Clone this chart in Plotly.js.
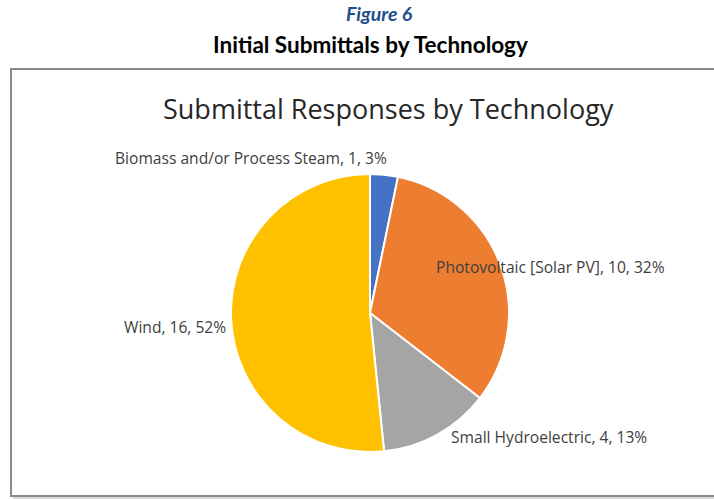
<!DOCTYPE html>
<html><head><meta charset="utf-8">
<script src="https://cdn.plot.ly/plotly-3.0.1.min.js"></script>
<style>html,body{margin:0;padding:0;background:#fff;}#chart{width:714px;height:499px;}</style>
</head><body><div id="chart"></div>
<script>
const categories = ["Biomass and/or Process Steam", "Photovoltaic [Solar PV]", "Small Hydroelectric", "Wind"];
const counts = [1, 10, 4, 16];
const colors = ["#4472C4", "#ED7D31", "#A5A5A5", "#FFC000"];
const headerTitle = "Figure 6";
const headerSubtitle = "Initial Submittals by Technology";
const chartTitle = "Submittal Responses by Technology";

const W = 714, H = 499;
const total = counts.reduce((a, b) => a + b, 0);
const labelText = categories.map((c, i) => c + ", " + counts[i] + ", " + Math.round(counts[i] / total * 100) + "%");
// label anchor positions in pixels (x, y, xanchor)
const labelPos = [[251, 158, "center"], [434, 267, "left"], [449, 437, "left"], [122, 327, "left"]];
const px = x => x / W, py = y => 1 - y / H;
const FONT = "'Open Sans', sans-serif";

const annotations = labelText.map((t, i) => ({
  text: t, x: px(labelPos[i][0]), y: py(labelPos[i][1]), xref: "paper", yref: "paper",
  xanchor: labelPos[i][2], yanchor: "middle", showarrow: false,
  font: {family: FONT, size: 15.6, color: "#404040"}
}));
annotations.push(
  {text: "<b><i>" + headerTitle + "</i></b>", x: px(379), y: py(13), xref: "paper", yref: "paper", xanchor: "center", yanchor: "middle", showarrow: false, font: {family: "Lato, sans-serif", size: 19.5, color: "#1F4E8C"}},
  {text: "<b>" + headerSubtitle + "</b>", x: px(370), y: py(45), xref: "paper", yref: "paper", xanchor: "center", yanchor: "middle", showarrow: false, font: {family: "Lato, sans-serif", size: 22.5, color: "#000000"}},
  {text: chartTitle, x: px(389), y: py(108), xref: "paper", yref: "paper", xanchor: "center", yanchor: "middle", showarrow: false, font: {family: FONT, size: 27, color: "#262626"}}
);

const data = [{
  type: "pie", labels: categories, values: counts, sort: false, direction: "clockwise", rotation: 0,
  marker: {colors: colors, line: {color: "#ffffff", width: 2}},
  textinfo: "none", hoverinfo: "label+value+percent", showlegend: false,
  domain: {x: [px(231), px(509)], y: [py(452), py(174)]}
}];

const layout = {
  width: W, height: H, margin: {l: 0, r: 0, t: 0, b: 0},
  paper_bgcolor: "#ffffff", plot_bgcolor: "#ffffff", showlegend: false,
  annotations: annotations,
  shapes: [
    {type: "rect", xref: "paper", yref: "paper", x0: px(13), x1: px(730), y0: py(499), y1: py(71), line: {width: 0}, fillcolor: "#d9d9d9", layer: "below"},
    {type: "rect", xref: "paper", yref: "paper", x0: px(11), x1: px(730), y0: py(496), y1: py(69), line: {width: 2, color: "#8a8a8a"}, fillcolor: "#ffffff", layer: "below"}
  ]
};
Plotly.newPlot("chart", data, layout, {displayModeBar: false, staticPlot: true});
</script></body></html>
